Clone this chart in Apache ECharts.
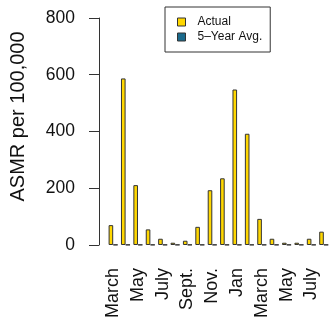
<!DOCTYPE html>
<html>
<head>
<meta charset="utf-8">
<script src="https://cdn.jsdelivr.net/npm/echarts@6/dist/echarts.min.js"></script>
<style>
  html, body { margin: 0; padding: 0; background: #ffffff; }
  #chart { width: 330px; height: 321px; }
</style>
</head>
<body>
<div id="chart"></div>
<script>
// Monthly age-standardised mortality rate, March through August of the following year
const months = ['March', 'April', 'May', 'June', 'July', 'Aug.', 'Sept.', 'Oct.', 'Nov.', 'Dec.',
                'Jan', 'Feb.', 'March', 'April', 'May', 'June', 'July', 'Aug.'];
const actual = [70, 587, 211, 55, 22, 8, 15, 64, 193, 235, 548, 392, 92, 22, 8, 8, 22, 47];
const fiveYearAvg = [1, 1, 1, 1, 1, 1, 1, 1, 1, 1, 1, 1, 1, 1, 1, 1, 1, 1];
const yTicks = [0, 200, 400, 600, 800];

const FONT = '"Liberation Sans", Arial, Helvetica, sans-serif';
const AXIS_COLOR = '#333333';

const chart = echarts.init(document.getElementById('chart'), null, { renderer: 'canvas' });

chart.setOption({
  animation: false,
  backgroundColor: '#ffffff',
  textStyle: { fontFamily: FONT },
  grid: { left: 105, top: 18, width: 228, height: 227, containLabel: false },
  legend: {
    orient: 'vertical',
    left: 165,
    top: 7,
    padding: [8, 8, 8, 12],
    itemGap: 1,
    itemWidth: 8,
    itemHeight: 8,
    borderColor: AXIS_COLOR,
    borderWidth: 1,
    icon: 'rect',
    itemStyle: { borderColor: AXIS_COLOR, borderWidth: 1 },
    textStyle: { fontSize: 12, color: '#111', lineHeight: 14, padding: [0, 0, 0, 7], fontFamily: FONT },
    data: ['Actual', '5\u2013Year Avg.']
  },
  xAxis: {
    type: 'category',
    data: months,
    axisLine: { show: false },
    axisTick: { show: false },
    axisLabel: {
      interval: 1,
      rotate: 90,
      margin: 23,
      fontSize: 18,
      color: '#111',
      fontFamily: FONT
    }
  },
  yAxis: {
    type: 'value',
    min: yTicks[0],
    max: yTicks[yTicks.length - 1],
    interval: 200,
    offset: 8,
    name: 'ASMR per 100,000',
    nameLocation: 'middle',
    nameGap: 71,
    nameTextStyle: { fontSize: 20, color: '#111', fontFamily: FONT, padding: [0, 0, 0, 30] },
    axisLine: { show: true, lineStyle: { color: AXIS_COLOR, width: 1 } },
    axisTick: { show: true, length: 10, lineStyle: { color: AXIS_COLOR, width: 1 } },
    axisLabel: { margin: 24, fontSize: 17.5, color: '#111', fontFamily: FONT },
    splitLine: { show: false }
  },
  series: [
    {
      name: 'Actual',
      type: 'bar',
      data: actual,
      barWidth: 4.6,
      barGap: '0%',
      itemStyle: { color: '#FFD700', borderColor: AXIS_COLOR, borderWidth: 1 }
    },
    {
      name: '5\u2013Year Avg.',
      type: 'bar',
      data: fiveYearAvg,
      barWidth: 4.6,
      barGap: '0%',
      itemStyle: { color: '#1B6A8C', borderColor: AXIS_COLOR, borderWidth: 1 }
    }
  ]
});
</script>
</body>
</html>
